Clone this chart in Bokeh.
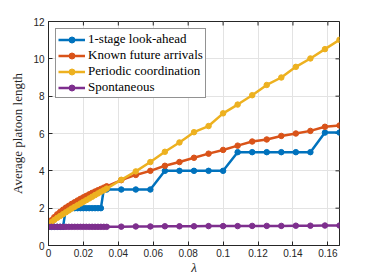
import math
from bokeh.plotting import figure
from bokeh.models import FixedTicker, Range1d
from bokeh.embed import file_html
from bokeh.resources import INLINE

# ---- data ----
lam = [0, 0.001667, 0.003333, 0.005, 0.006667, 0.008333, 0.01, 0.011667, 0.013333,
       0.015, 0.016667, 0.018333, 0.02, 0.021667, 0.023333, 0.025, 0.026667,
       0.028333, 0.03, 0.031667,
       0.033333, 0.041667, 0.05, 0.058333, 0.066667, 0.075, 0.083333, 0.091667,
       0.1, 0.108333, 0.116667, 0.125, 0.133333, 0.141667, 0.15, 0.158333, 0.166667]

lookahead = [1, 1, 1, 1, 1, 1, 2, 2, 2, 2, 2, 2, 2, 2, 2, 2, 2, 2, 2, 3,
             3, 3, 3, 3, 4, 4, 4, 4, 4, 5, 5, 5, 5, 5, 5, 6.05, 6.05]

known_future = [1.15, 1.35, 1.52, 1.67, 1.8, 1.92, 2.03, 2.13, 2.23, 2.32, 2.41,
                2.5, 2.58, 2.66, 2.74, 2.82, 2.89, 2.96, 3.03, 3.1,
                3.17, 3.5, 3.78, 4.0, 4.27, 4.47, 4.7, 4.92, 5.12, 5.35, 5.57,
                5.68, 5.87, 6.0, 6.14, 6.36, 6.43]

periodic = [1.12, 1.25, 1.37, 1.48, 1.58, 1.68, 1.78, 1.88, 1.98, 2.07, 2.16,
            2.25, 2.34, 2.43, 2.52, 2.61, 2.7, 2.79, 2.88, 2.96,
            3.05, 3.52, 3.97, 4.47, 5.02, 5.52, 6.07, 6.4, 7.08, 7.55, 8.05,
            8.6, 9.0, 9.57, 10.02, 10.52, 11.02]

spontaneous = [1.0] * 20 + [1.0, 1.01, 1.02, 1.02, 1.03, 1.03, 1.03, 1.04, 1.04,
                            1.04, 1.05, 1.05, 1.05, 1.06, 1.06, 1.07, 1.07]

series_names = ["1-stage look-ahead", "Known future arrivals",
                "Periodic coordination", "Spontaneous"]
series_colors = ["#0072BD", "#D95319", "#EDB120", "#7E2F8E"]

x_ticks = [0, 0.02, 0.04, 0.06, 0.08, 0.1, 0.12, 0.14, 0.16]
x_tick_labels = ["0", "0.02", "0.04", "0.06", "0.08", "0.1", "0.12", "0.14", "0.16"]
y_ticks = [0, 2, 4, 6, 8, 10, 12]
y_tick_labels = ["0", "2", "4", "6", "8", "10", "12"]
x_max = 0.166667
y_max = 12

AX = "#262626"

p = figure(width=366, height=277, output_backend="svg", toolbar_location=None,
           x_range=Range1d(0, x_max), y_range=Range1d(0, y_max),
           min_border_left=48, min_border_right=27, min_border_top=21,
           min_border_bottom=32)
p.background_fill_color = "white"
p.outline_line_color = AX
p.outline_line_width = 1

p.xgrid.grid_line_color = "#e3e3e3"
p.ygrid.grid_line_color = "#e3e3e3"

# box ticks on top and right edges (inward)
p.scatter(x_ticks, [y_max] * len(x_ticks), marker="dash", angle=math.pi / 2,
          size=8, line_color=AX, line_width=1)
p.scatter([x_max] * len(y_ticks), y_ticks, marker="dash", size=8,
          line_color=AX, line_width=1)

for ys, name, col in zip([lookahead, known_future, periodic, spontaneous],
                         series_names, series_colors):
    p.line(lam, ys, line_color=col, line_width=2.5, legend_label=name)
    p.scatter(lam, ys, size=5.5, fill_color=col, line_color=col,
              legend_label=name)

# axes
xa = p.xaxis[0]
ya = p.yaxis[0]
xa.ticker = FixedTicker(ticks=x_ticks)
ya.ticker = FixedTicker(ticks=y_ticks)
xa.major_label_overrides = {t: l for t, l in zip(x_ticks, x_tick_labels)}
ya.major_label_overrides = {t: l for t, l in zip(y_ticks, y_tick_labels)}
for ax in (xa, ya):
    ax.axis_line_color = AX
    ax.major_tick_line_color = AX
    ax.major_tick_in = 4
    ax.major_tick_out = 0
    ax.minor_tick_line_color = None
    ax.major_label_text_font = "Liberation Sans"
    ax.major_label_text_font_size = "10px"
    ax.major_label_text_color = AX
    ax.axis_label_text_font = "Liberation Serif"
    ax.axis_label_text_color = AX
    ax.axis_label_text_font_size = "13px"
xa.axis_label = "λ"
xa.axis_label_text_font_style = "italic"
xa.major_label_standoff = 3
xa.axis_label_standoff = 0
ya.axis_label = "Average platoon length"
ya.axis_label_text_font_style = "normal"
ya.major_label_standoff = 4
ya.axis_label_standoff = 5

lg = p.legend[0]
lg.location = "top_left"
lg.margin = 7
lg.padding = 2
lg.spacing = 0
lg.glyph_width = 27
lg.glyph_height = 15
lg.label_height = 15
lg.label_standoff = 3
lg.label_text_font = "Times New Roman"
lg.label_text_font_style = "normal"
lg.label_text_font_size = "13px"
lg.label_text_color = "#000000"
lg.border_line_color = AX
lg.border_line_width = 1
lg.background_fill_color = "white"
lg.background_fill_alpha = 1

open("out.html", "w").write(file_html(p, INLINE))
